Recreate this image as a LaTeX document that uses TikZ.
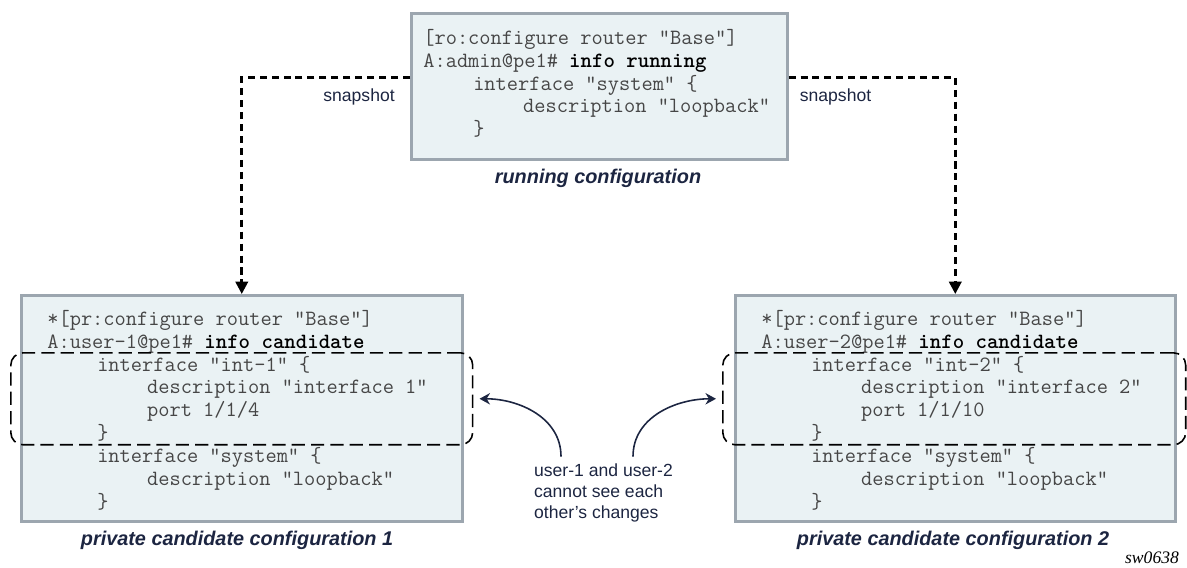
\documentclass[tikz,border=0pt]{standalone}
\usepackage{fontspec}
\setmainfont{Liberation Serif}
\setsansfont{Liberation Sans}
\usepackage{tikz}
\usetikzlibrary{arrows.meta, positioning, calc}

\newcommand{\lvl}{\hspace*{28.4pt}}
\newcommand{\cmd}[1]{\textbf{\color{black}#1}}

\begin{document}
\begin{tikzpicture}[x=0.02cm, y=-0.02cm,
    cfgbox/.style={rectangle, draw=boxborder, line width=1.5pt, fill=boxfill, anchor=north west, inner sep=0pt},
    cli/.style={anchor=north west, inner sep=0pt, align=left, text=clitext, font=\ttfamily\fontsize{12.4}{13}\selectfont},
    caption/.style={inner sep=0pt, text=navy, font=\sffamily\bfseries\itshape\fontsize{11.3}{13}\selectfont},
    note/.style={inner sep=0pt, align=left, text=navy, font=\sffamily\fontsize{10}{11.9}\selectfont},
    change/.style={rectangle, draw, rounded corners=7pt, line width=0.9pt, dash pattern=on 7.5pt off 3.5pt, anchor=north west, inner sep=0pt},
    snap/.style={-{Triangle[length=7pt, width=7pt]}, line width=1.5pt, dash pattern=on 4pt off 2.8pt},
    reach/.style={-{Stealth[length=6pt, width=6.5pt]}, draw=navy, line width=0.9pt}]

    % Define colors
    \definecolor{boxfill}{RGB}{234,242,244}
    \definecolor{boxborder}{RGB}{156,166,175}
    \definecolor{clitext}{RGB}{70,70,70}
    \definecolor{navy}{RGB}{28,37,65}

    \useasboundingbox (0,0) rectangle (1187,568);

    % Nodes
    \node[cfgbox, minimum width=7.52cm, minimum height=2.92cm] (runbox) at (410,12) {};
    \node[cfgbox, minimum width=8.82cm, minimum height=4.52cm] (cand1) at (20,294) {};
    \node[cfgbox, minimum width=8.8cm, minimum height=4.52cm] (cand2) at (734,294) {};

    \node[cli] (runtxt) at (423,29) {[ro:configure router "Base"]\\
        A:admin@pe1\# \cmd{info running}\\
        \lvl interface "system" \{\\
        \lvl\lvl description "loopback"\\
        \lvl \}};
    \node[cli] (cand1txt) at (47,310) {*[pr:configure router "Base"]\\
        A:user-1@pe1\# \cmd{info candidate}\\
        \lvl interface "int-1" \{\\
        \lvl\lvl description "interface 1"\\
        \lvl\lvl port 1/1/4\\
        \lvl \}\\
        \lvl interface "system" \{\\
        \lvl\lvl description "loopback"\\
        \lvl \}};
    \node[cli] (cand2txt) at (761,310) {*[pr:configure router "Base"]\\
        A:user-2@pe1\# \cmd{info candidate}\\
        \lvl interface "int-2" \{\\
        \lvl\lvl description "interface 2"\\
        \lvl\lvl port 1/1/10\\
        \lvl \}\\
        \lvl interface "system" \{\\
        \lvl\lvl description "loopback"\\
        \lvl \}};

    \node[change, minimum width=9.24cm, minimum height=1.84cm] (chg1) at (10,352) {};
    \node[change, minimum width=9.26cm, minimum height=1.84cm] (chg2) at (722,352) {};

    \node[caption] (runcap) at (598,178) {running configuration};
    \node[caption] (cand1cap) at (237,540) {private candidate configuration 1};
    \node[caption] (cand2cap) at (953,540) {private candidate configuration 2};

    \node[note] (isolate) at (603.5,493) {user-1 and user-2\\cannot see each\\other's changes};
    \node[inner sep=0pt, font=\itshape\fontsize{10}{12}\selectfont] (figid) at (1152,558) {sw0638};

    % Arrows
    \draw[snap] ([yshift=0.18cm]runbox.west) node[note, anchor=north east, xshift=-0.28cm, yshift=-0.2cm] {snapshot} -| (cand1.north);
    \draw[snap] ([yshift=0.18cm]runbox.east) node[note, anchor=north west, xshift=0.2cm, yshift=-0.2cm] {snapshot} -| (cand2.north);

    \draw[reach] ([xshift=-0.85cm, yshift=0.14cm]isolate.north) to[out=90, in=0] ([xshift=0.12cm]chg1.east);
    \draw[reach] ([xshift=0.59cm, yshift=0.14cm]isolate.north) to[out=90, in=180] ([xshift=-0.12cm]chg2.west);

\end{tikzpicture}
\end{document}
